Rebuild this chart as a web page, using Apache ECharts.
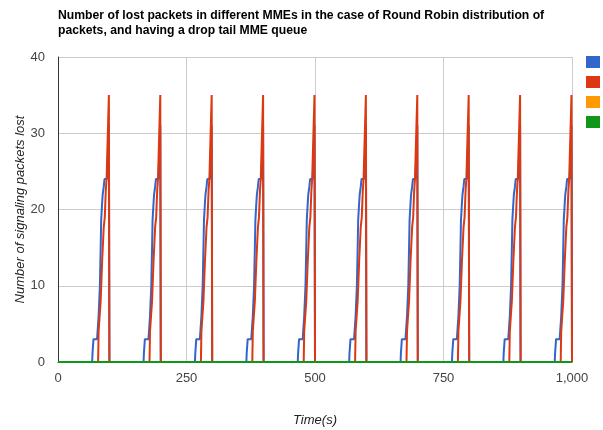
<!DOCTYPE html>
<html>
<head>
  <meta charset="utf-8" />
  <title>Lost packets per MME</title>
  <script src="https://cdn.jsdelivr.net/npm/echarts@6/dist/echarts.min.js"></script>
  <style>
    html, body { margin: 0; padding: 0; background: #fff; }
    #main { width: 603px; height: 430px; }
  </style>
</head>
<body>
<div id="main"></div>
<script>
  // series names and colours (legend text falls off the right edge, as in the picture)
  var seriesNames = ['MME1', 'MME2', 'MME3', 'MME4'];
  var seriesColors = ['#3366cc', '#dc3912', '#ff9900', '#109618'];

  // time (s) at which each loss burst ends and every counter goes back to 0
  var cycleEnds = [100, 200, 300, 400, 500, 600, 700, 800, 900, 1000];

  // shape of one burst: time relative to the burst end, packets lost
  var blueOffsets = [-33.5, -33, -31.5, -31, -24, -21, -18.5, -17, -16, -14, -13, -11.5, -11, -10, -9.5, -4.5, -1, 0];
  var blueValues  = [0,     1,   1,     3,   3,   6,   10,    15,  18.6, 21, 22,  22,    23,  23,  24,   24,   31,  0];
  var redOffsets  = [-22, -21, -17, -14, -11, -9, -7,   -5.5, -4.5, -1, -0.3, 0];
  var redValues   = [0,   4,   8,   13.4, 17.7, 19, 22.5, 24,  24,   35, 35,   0];

  // the two other MMEs lose nothing over the whole run
  var flatTimes  = [0, 1000];
  var flatValues = [0, 0];

  function buildBursts(offsets, values) {
    var pts = [[0, 0]];
    for (var c = 0; c < cycleEnds.length; c++) {
      for (var i = 0; i < offsets.length; i++) {
        pts.push([cycleEnds[c] + offsets[i], values[i]]);
      }
    }
    return pts;
  }

  function buildFlat() {
    var pts = [];
    for (var i = 0; i < flatTimes.length; i++) pts.push([flatTimes[i], flatValues[i]]);
    return pts;
  }

  var seriesData = [
    buildBursts(blueOffsets, blueValues),
    buildBursts(redOffsets, redValues),
    buildFlat(),
    buildFlat()
  ];

  var font = '"Liberation Sans", Arial, sans-serif';

  var series = [];
  for (var s = 0; s < seriesNames.length; s++) {
    series.push({
      name: seriesNames[s],
      type: 'line',
      data: seriesData[s],
      showSymbol: false,
      symbol: 'none',
      lineStyle: { width: 2, color: seriesColors[s] },
      itemStyle: { color: seriesColors[s] },
      z: 2 + s
    });
  }

  var myChart = echarts.init(document.getElementById('main'));
  var option = {
    animation: false,
    backgroundColor: '#ffffff',
    color: seriesColors,
    title: {
      text: 'Number of lost packets in different MMEs in the case of Round Robin distribution of\npackets, and having a drop tail MME queue',
      left: 53,
      top: 3,
      textStyle: { fontFamily: font, fontSize: 12.2, fontWeight: 'bold', color: '#000', lineHeight: 15 }
    },
    legend: {
      orient: 'vertical',
      left: 586,
      top: 56,
      padding: 0,
      itemWidth: 14,
      itemHeight: 12,
      itemGap: 8,
      icon: 'rect',
      textStyle: { fontFamily: font, fontSize: 11, lineHeight: 12, color: '#222' },
      data: seriesNames
    },
    grid: { left: 58, right: 31, top: 57, bottom: 68, containLabel: false, outerBoundsMode: 'none' },
    xAxis: {
      type: 'value',
      min: 0,
      max: 1000,
      interval: 250,
      name: 'Time(s)',
      nameLocation: 'middle',
      nameGap: 52,
      nameMoveOverlap: false,
      nameTextStyle: { fontFamily: font, fontSize: 13, fontStyle: 'italic', color: '#222' },
      axisLine: { show: true, lineStyle: { color: '#333', width: 1 } },
      axisTick: { show: false },
      axisLabel: {
        fontFamily: font, fontSize: 13, color: '#444', margin: 10,
        formatter: function (v) { return v.toLocaleString('en-US'); }
      },
      splitLine: { show: true, lineStyle: { color: '#cccccc', width: 1 } }
    },
    yAxis: {
      type: 'value',
      min: 0,
      max: 40,
      interval: 10,
      name: 'Number of signaling packets lost',
      nameLocation: 'middle',
      nameGap: 31,
      nameMoveOverlap: false,
      nameRotate: 90,
      nameTextStyle: { fontFamily: font, fontSize: 13, fontStyle: 'italic', color: '#222' },
      axisLine: { show: true, lineStyle: { color: '#333', width: 1 } },
      axisTick: { show: false },
      axisLabel: { fontFamily: font, fontSize: 13, color: '#444', margin: 13 },
      splitLine: { show: true, lineStyle: { color: '#cccccc', width: 1 } }
    },
    series: series
  };
  myChart.setOption(option);
</script>
</body>
</html>
